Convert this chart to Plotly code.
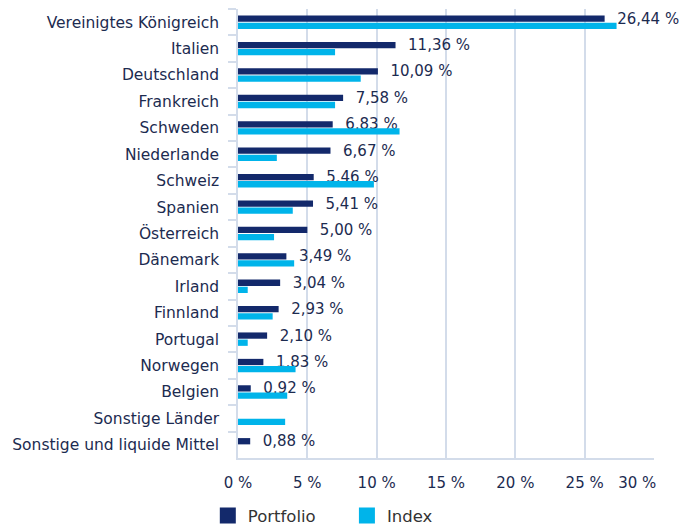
import plotly.graph_objects as go

categories = ["Vereinigtes Königreich", "Italien", "Deutschland", "Frankreich", "Schweden",
              "Niederlande", "Schweiz", "Spanien", "Österreich", "Dänemark", "Irland",
              "Finnland", "Portugal", "Norwegen", "Belgien", "Sonstige Länder",
              "Sonstige und liquide Mittel"]
portfolio = [26.44, 11.36, 10.09, 7.58, 6.83, 6.67, 5.46, 5.41, 5.00, 3.49, 3.04,
             2.93, 2.10, 1.83, 0.92, None, 0.88]
index_vals = [27.3, 7.0, 8.85, 7.0, 11.65, 2.8, 9.8, 3.95, 2.6, 4.05, 0.7,
              2.5, 0.7, 4.15, 3.55, 3.4, None]
tick_vals = [0, 5, 10, 15, 20, 25, 30]
tick_text = ["0 %", "5 %", "10 %", "15 %", "20 %", "25 %", "30 %" + "\u00a0" * 7]

NAVY = "#13296b"
CYAN = "#00b4ea"
TEXT = "#1c2b50"
GRID = "#d3dcea"
FONT = "DejaVu Sans"

fig = go.Figure()
fig.add_trace(go.Bar(
    y=categories, x=portfolio, orientation="h", name="Portfolio",
    marker=dict(color=NAVY, line=dict(width=0)),
    texttemplate="\u00a0\u00a0%{x:.2f} %", textposition="outside",
    textfont=dict(family=FONT, size=15, color=TEXT),
    constraintext="none", cliponaxis=False, showlegend=False,
))
fig.add_trace(go.Bar(
    y=categories, x=index_vals, orientation="h", name="Index",
    marker=dict(color=CYAN, line=dict(width=0)), showlegend=False,
))
# legend swatches
for nm, col in [("Portfolio" + "\u00a0" * 5, NAVY), ("Index", CYAN)]:
    fig.add_trace(go.Scatter(
        x=[None], y=[None], mode="markers", name=nm,
        marker=dict(symbol="square", size=20, color=col), showlegend=True,
    ))

# page body has an 8px margin: figure is 689x523 drawn at (8,8)
fig.update_layout(
    width=689, height=523,
    margin=dict(l=230, r=43, t=1, b=73, autoexpand=False),
    paper_bgcolor="white", plot_bgcolor="white",
    barmode="group", bargap=0.46, bargroupgap=0.12,
    separators=",.",
    font=dict(family=FONT, size=15, color=TEXT),
    legend=dict(orientation="h", xref="container", yref="container",
                x=0.29, xanchor="left", y=0.029, yanchor="middle",
                font=dict(family=FONT, size=16.5, color="#333333"),
                itemwidth=30, tracegroupgap=0, itemsizing="trace"),
    xaxis=dict(range=[0, 30], tickvals=tick_vals, ticktext=tick_text,
               showgrid=True, gridcolor=GRID, gridwidth=1.5,
               showline=True, linecolor=GRID, linewidth=1.5,
               zeroline=False, ticks="", ticklabelstandoff=10, automargin=False,
               ticklabeloverflow="allow",
               tickfont=dict(family=FONT, size=15, color=TEXT)),
    yaxis=dict(autorange="reversed", type="category", automargin=False,
               showline=True, linecolor=GRID, linewidth=1.5,
               ticks="outside", tickson="boundaries", ticklen=8,
               tickcolor=GRID, tickwidth=1.5, ticklabelstandoff=14,
               showgrid=False,
               tickfont=dict(family=FONT, size=15.5, color=TEXT)),
)

fig.write_html("out.html")
